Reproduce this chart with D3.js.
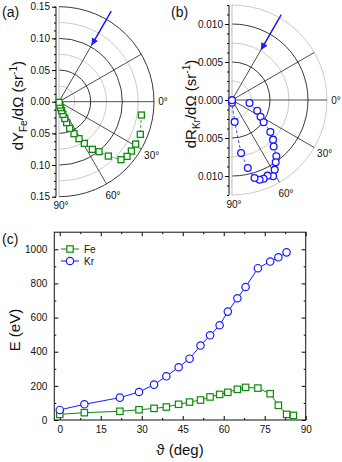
<!DOCTYPE html>
<html>
<head>
<meta charset="utf-8">
<script src="https://cdn.jsdelivr.net/npm/d3@7"></script>
<style>
  body { margin: 0; background: #fff; }
  text { font-family: "Liberation Sans", Arial, sans-serif; fill: #111; }
</style>
</head>
<body>
<svg id="fig" width="342" height="462"></svg>
<script>
// ---- panel (a): Fe yield, polar (angle in deg from surface normal, value in sr^-1)
const feYieldAngle = [9.2, 21.9, 28.9, 34.3, 38.8, 43.1, 47.8, 51.3, 55.0, 58.7, 61.6, 64.9, 68.2, 70.0, 71.0, 72.5, 73.5, 74.5, 75.0, 78.0];
const feYield      = [0.1317, 0.1384, 0.1383, 0.1383, 0.1378, 0.134, 0.1159, 0.1011, 0.0918, 0.077, 0.0664, 0.0558, 0.0454, 0.0353, 0.028, 0.021, 0.0148, 0.0098, 0.0055, 0.001];

// ---- panel (b): Kr reflection, polar
const krReflAngle = [9.8, 23.1, 30.5, 35.1, 39.8, 44.0, 48.1, 51.7, 54.9, 58.5, 61.7, 64.8, 68.1, 70.9, 73.9, 76.9, 80.3, 83.0, 89.0, 90.0];
const krRefl      = [0.00234, 0.00361, 0.00436, 0.00508, 0.00657, 0.00751, 0.00821, 0.00942, 0.0100, 0.01075, 0.0114, 0.0110, 0.01116, 0.0111, 0.01069, 0.00918, 0.00709, 0.0029, 0.00035, 0.00002];

// ---- panel (c): mean energy vs angle
const feTheta  = [0, 9, 22, 29, 34.5, 39, 43.5, 47.5, 51.5, 55, 58.5, 61.5, 65, 68, 72.5, 77, 80, 83, 85.5];
const feEnergy = [33, 43, 51, 60, 68, 76, 92, 105, 117, 135, 150, 162, 180, 191, 187, 154, 86, 33, 27];
const krTheta  = [0, 9, 22, 29, 34.5, 39, 43.5, 47.5, 51.5, 55, 58.5, 61.5, 65, 68, 72.5, 77, 80, 83];
const krEnergy = [59, 92, 131, 164, 207, 256, 309, 359, 436, 496, 555, 635, 713, 779, 889, 928, 953, 982];

const polarTicks = [0, 30, 60, 90];
const FE = "#0b8a0b", KR = "#1a1aff";

const svg = d3.select("#fig");
const rad = d => d * Math.PI / 180;

// arrowhead
svg.append("defs").append("marker")
  .attr("id", "arr").attr("viewBox", "0 0 10 10")
  .attr("refX", 9).attr("refY", 5)
  .attr("markerWidth", 5).attr("markerHeight", 5)
  .attr("orient", "auto")
  .append("path").attr("d", "M0,0L10,5L0,10Z").attr("fill", KR);

function drawPolar({cx, cy, R, rMax, step, ticks, fmt, angles, values, color, symbol, arrow, letter, lx, ylab, sub}) {
  const g = svg.append("g");
  const r = d3.scaleLinear().domain([0, rMax]).range([0, R]);
  const y = d3.scaleLinear().domain([-rMax, rMax]).range([cy + R, cy - R]);

  // rings, every 2nd one black
  const rings = d3.range(1, Math.round(rMax / step) + 1);
  rings.forEach(k => {
    const p = d3.path();
    p.arc(cx, cy, r(k * step), -Math.PI / 2, Math.PI / 2);
    g.append("path").attr("d", p.toString()).attr("fill", "none")
      .attr("stroke", k % 2 === 0 ? "#222" : "#c4c4c4").attr("stroke-width", 0.9);
  });

  // spokes
  [-60, -30, 0, 30, 60].forEach(a => {
    g.append("line")
      .attr("x1", cx).attr("y1", cy)
      .attr("x2", cx + R * Math.cos(rad(a))).attr("y2", cy + R * Math.sin(rad(a)))
      .attr("stroke", "#222").attr("stroke-width", 0.8);
  });
  g.append("line").attr("x1", cx).attr("x2", cx).attr("y1", cy - R).attr("y2", cy + R)
    .attr("stroke", "#bbb").attr("stroke-width", 1);

  // angle labels
  const off = [9, 12, 13, 9];
  polarTicks.forEach((a, i) => {
    g.append("text")
      .attr("x", cx + (R + off[i]) * Math.cos(rad(a)) + (a === 90 ? 2 : 0))
      .attr("y", cy + (R + off[i]) * Math.sin(rad(a)))
      .attr("dy", "0.35em").attr("text-anchor", "middle")
      .attr("font-size", 10).text(a + "°");
  });

  // vertical value axis
  const ax = cx - 3;
  g.append("g").attr("transform", `translate(${ax},0)`)
    .call(d3.axisLeft(y).tickValues(d3.range(-rMax, rMax + step / 4, step / 2)).tickSize(2).tickFormat(""))
    .call(s => s.select(".domain").remove());
  g.append("g").attr("transform", `translate(${ax},0)`)
    .call(d3.axisLeft(y).tickValues(ticks).tickSize(4).tickPadding(2).tickFormat(d => fmt(Math.abs(d))))
    .call(s => s.select(".domain").remove())
    .call(s => s.selectAll("text").attr("font-size", 10).style("font-family", "Liberation Sans, Arial"));
  g.append("line").attr("x1", ax).attr("x2", ax).attr("y1", cy - R).attr("y2", cy + R)
    .attr("stroke", "#111").attr("stroke-width", 1);

  // data
  const pts = angles.map((a, i) => [cx + r(values[i]) * Math.cos(rad(a)), cy + r(values[i]) * Math.sin(rad(a))]);
  g.append("path").attr("d", d3.line()(pts)).attr("fill", "none")
    .attr("stroke", color).attr("stroke-width", 0.8).attr("stroke-dasharray", "3,2");
  if (symbol === "square") {
    g.selectAll("rect.pt").data(pts).join("rect").attr("class", "pt")
      .attr("x", d => d[0] - 3).attr("y", d => d[1] - 3).attr("width", 6).attr("height", 6)
      .attr("fill", "#fff").attr("stroke", color).attr("stroke-width", 1.3);
  } else {
    g.selectAll("circle.pt").data(pts).join("circle").attr("class", "pt")
      .attr("cx", d => d[0]).attr("cy", d => d[1]).attr("r", 3.4)
      .attr("fill", "#fff").attr("stroke", color).attr("stroke-width", 1.3);
  }

  // incoming beam arrow
  g.append("line")
    .attr("x1", cx + r(arrow[0]) * Math.cos(rad(-60))).attr("y1", cy + r(arrow[0]) * Math.sin(rad(-60)))
    .attr("x2", cx + r(arrow[1]) * Math.cos(rad(-60))).attr("y2", cy + r(arrow[1]) * Math.sin(rad(-60)))
    .attr("stroke", KR).attr("stroke-width", 1.4).attr("marker-end", "url(#arr)");

  // labels
  svg.append("text").attr("x", lx).attr("y", 17).attr("font-size", 14).text(letter);
  const t = svg.append("text").attr("transform", `translate(${cx - 36},${cy + 4}) rotate(-90)`)
    .attr("text-anchor", "middle").attr("font-size", 15);
  t.append("tspan").text(ylab);
  t.append("tspan").attr("font-size", 10).attr("dy", 4).text(sub);
  t.append("tspan").attr("dy", -4).text("/d\u03a9 (sr");
  t.append("tspan").attr("font-size", 10).attr("dy", -6).text("-1");
  t.append("tspan").attr("dy", 6).text(")");
}

drawPolar({cx: 59, cy: 101.7, R: 95, rMax: 0.15, step: 0.025,
  ticks: [-0.15, -0.1, -0.05, 0, 0.05, 0.1, 0.15], fmt: d3.format(".2f"),
  angles: feYieldAngle, values: feYield, color: FE, symbol: "square",
  arrow: [0.165, 0.104], letter: "(a)", lx: 2, ylab: "dY", sub: "Fe"});

drawPolar({cx: 232, cy: 100, R: 95, rMax: 0.0125, step: 0.0025,
  ticks: [-0.01, -0.005, 0, 0.005, 0.01], fmt: d3.format(".3f"),
  angles: krReflAngle, values: krRefl, color: KR, symbol: "circle",
  arrow: [0.01296, 0.0077], letter: "(b)", lx: 171, ylab: "dR", sub: "Kr"});

// ---- panel (c)
const box = {l: 54.3, r: 305.7, t: 232.2, b: 420};
const x = d3.scaleLinear().domain([-2, 90]).range([box.l, box.r]);
const y = d3.scaleLinear().domain([0, 1100]).range([box.b, box.t]);
const gc = svg.append("g");

const clean = s => s.select(".domain").remove();
const small = s => s.selectAll("text").attr("font-size", 10).style("font-family", "Liberation Sans, Arial");
const xMaj = d3.range(0, 91, 15), xMin = d3.range(7.5, 90, 15);
const yMaj = d3.range(0, 1001, 200), yMin = d3.range(100, 1100, 200);

gc.append("g").attr("transform", `translate(0,${box.b})`)
  .call(d3.axisBottom(x).tickValues(xMaj).tickSize(-4).tickPadding(6)).call(clean).call(small);
gc.append("g").attr("transform", `translate(0,${box.b})`)
  .call(d3.axisBottom(x).tickValues(xMin).tickSize(-2).tickFormat("")).call(clean);
gc.append("g").attr("transform", `translate(0,${box.t})`)
  .call(d3.axisTop(x).tickValues(xMaj).tickSize(-4).tickFormat("")).call(clean);
gc.append("g").attr("transform", `translate(0,${box.t})`)
  .call(d3.axisTop(x).tickValues(xMin).tickSize(-2).tickFormat("")).call(clean);
gc.append("g").attr("transform", `translate(${box.l},0)`)
  .call(d3.axisLeft(y).tickValues(yMaj).tickSize(-4).tickPadding(7).tickFormat(d3.format("d"))).call(clean).call(small);
gc.append("g").attr("transform", `translate(${box.l},0)`)
  .call(d3.axisLeft(y).tickValues(yMin).tickSize(-2).tickFormat("")).call(clean);
gc.append("g").attr("transform", `translate(${box.r},0)`)
  .call(d3.axisRight(y).tickValues(yMaj).tickSize(-4).tickFormat("")).call(clean);
gc.append("g").attr("transform", `translate(${box.r},0)`)
  .call(d3.axisRight(y).tickValues(yMin).tickSize(-2).tickFormat("")).call(clean);

gc.append("rect").attr("x", box.l).attr("y", box.t)
  .attr("width", box.r - box.l).attr("height", box.b - box.t)
  .attr("fill", "none").attr("stroke", "#111").attr("stroke-width", 1);

const line = d3.line().x(d => x(d[0])).y(d => y(d[1]));
const fePts = feTheta.map((t, i) => [t, feEnergy[i]]);
const krPts = krTheta.map((t, i) => [t, krEnergy[i]]);

gc.append("path").attr("d", line(fePts)).attr("fill", "none").attr("stroke", FE).attr("stroke-width", 1);
gc.append("path").attr("d", line(krPts)).attr("fill", "none").attr("stroke", KR).attr("stroke-width", 1);
gc.selectAll("rect.fe").data(fePts).join("rect").attr("class", "fe")
  .attr("x", d => x(d[0]) - 3.2).attr("y", d => y(d[1]) - 3.2).attr("width", 6.4).attr("height", 6.4)
  .attr("fill", "#fff").attr("stroke", FE).attr("stroke-width", 1.2);
gc.selectAll("circle.kr").data(krPts).join("circle").attr("class", "kr")
  .attr("cx", d => x(d[0])).attr("cy", d => y(d[1])).attr("r", 3.7)
  .attr("fill", "#fff").attr("stroke", KR).attr("stroke-width", 1.2);

// legend
const leg = [["Fe", FE, "square", 249], ["Kr", KR, "circle", 261]];
leg.forEach(([name, col, sym, ly]) => {
  gc.append("line").attr("x1", 61).attr("x2", 79).attr("y1", ly).attr("y2", ly).attr("stroke", col);
  if (sym === "square") gc.append("rect").attr("x", 66.8).attr("y", ly - 3.2).attr("width", 6.4).attr("height", 6.4)
    .attr("fill", "#fff").attr("stroke", col).attr("stroke-width", 1.2);
  else gc.append("circle").attr("cx", 70).attr("cy", ly).attr("r", 3.7)
    .attr("fill", "#fff").attr("stroke", col).attr("stroke-width", 1.2);
  gc.append("text").attr("x", 84).attr("y", ly).attr("dy", "0.35em").attr("font-size", 10).text(name);
});

svg.append("text").attr("x", 2).attr("y", 244).attr("font-size", 14).text("(c)");
svg.append("text").attr("transform", `translate(20,${(box.t + box.b) / 2 + 4}) rotate(-90)`)
  .attr("text-anchor", "middle").attr("font-size", 15).text("E (eV)");
svg.append("text").attr("x", (box.l + box.r) / 2).attr("y", 455)
  .attr("text-anchor", "middle").attr("font-size", 15).text("\u03d1 (deg)");
</script>
</body>
</html>
